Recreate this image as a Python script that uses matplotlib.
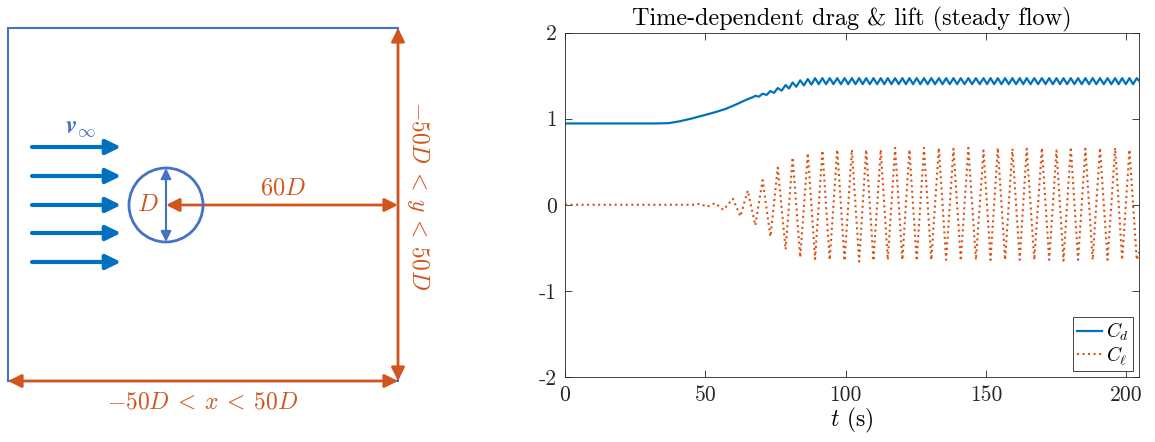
import numpy as np
import matplotlib
matplotlib.use("Agg")
import matplotlib.pyplot as plt
from matplotlib.patches import Circle, Rectangle, FancyArrowPatch

plt.rcParams['mathtext.fontset'] = 'cm'
plt.rcParams['font.family'] = ['cmr10', 'DejaVu Serif']
plt.rcParams['axes.unicode_minus'] = False

# lift coefficient: extrema (t in s)
cl_t = [0, 46, 48.2, 50.5, 53.5, 56.4, 59.8, 62.5, 65.1, 67.8, 70.4, 73.2, 75.8, 78.6, 81.1, 83.8, 86.5,
        89.1, 91.7, 94.3, 97.0, 99.6, 102.2, 104.8, 107.3, 109.9, 112.5, 115.0, 117.6, 120.2, 122.7, 125.3,
        127.9, 130.5, 133.2, 135.8, 138.4, 141.0, 143.7, 146.4, 149.1, 151.6, 154.2, 156.8, 159.4, 162.0,
        164.5, 167.2, 169.9, 172.5, 175.1, 177.6, 180.2, 182.8, 185.4, 188.0, 190.6, 193.3, 196.0, 198.5,
        201.1, 203.7, 204.5]
cl_v = [0.0, 0.0, 0.012, -0.025, 0.02, -0.06, 0.07, -0.135, 0.165, -0.24, 0.285, -0.37, 0.43, -0.52, 0.55,
        -0.61, 0.60, -0.63, 0.63, -0.64, 0.64, -0.65, 0.64, -0.66, 0.64, -0.65, 0.64, -0.64, 0.66, -0.64,
        0.64, -0.65, 0.66, -0.64, 0.66, -0.64, 0.65, -0.65, 0.66, -0.64, 0.63, -0.64, 0.66, -0.64, 0.65,
        -0.64, 0.65, -0.64, 0.66, -0.64, 0.63, -0.65, 0.67, -0.64, 0.65, -0.64, 0.66, -0.64, 0.66, -0.64,
        0.64, -0.64, -0.55]

# drag coefficient: smooth start-up, then small oscillation at twice the shedding frequency
cd_ramp_t = [0, 33, 37, 41, 45, 49, 53, 57, 61, 65, 67]
cd_ramp_v = [0.944, 0.944, 0.948, 0.97, 1.0, 1.035, 1.07, 1.11, 1.165, 1.225, 1.25]
cd_max_t = [67.8, 70.4, 73.2, 75.8, 78.6, 81.1, 83.8, 86.5, 89.1, 91.7, 94.3, 97.0, 99.6, 102.2,
            104.8, 107.3, 109.9, 112.5, 115.0, 117.6, 120.2, 122.7, 125.3, 127.9, 130.5, 133.2, 135.8, 138.4,
            141.0, 143.7, 146.4, 149.1, 151.6, 154.2, 156.8, 159.4, 162.0, 164.5, 167.2, 169.9, 172.5, 175.1,
            177.6, 180.2, 182.8, 185.4, 188.0, 190.6, 193.3, 196.0, 198.5, 201.1, 203.7]
cd_max_v = [1.265, 1.29, 1.32, 1.355, 1.39, 1.42, 1.445, 1.46] + [1.47] * 45
cd_min_t = [69.1, 71.8, 74.5, 77.2, 79.8, 82.4, 85.1, 87.8, 90.4, 93.0, 95.65, 98.3, 100.9, 103.5,
            106.05, 108.6, 111.2, 113.75, 116.3, 118.9, 121.45, 124.0, 126.6, 129.2, 131.85, 134.5, 137.1,
            139.7, 142.35, 145.05, 147.75, 150.35, 152.9, 155.5, 158.1, 160.7, 163.25, 165.85, 168.55, 171.2,
            173.8, 176.35, 178.9, 181.5, 184.1, 186.7, 189.3, 191.95, 194.65, 197.25, 199.8, 202.4, 204.5]
cd_min_v = [1.255, 1.275, 1.30, 1.325, 1.35, 1.37, 1.385, 1.395] + [1.40] * 44 + [1.44]

x_ticks = [0, 50, 100, 150, 200]
y_ticks = [-2, -1, 0, 1, 2]
y_ticklabels = ['-2', '-1', '0', '1', '2']

cd_t = np.array(cd_ramp_t + cd_max_t + cd_min_t)
cd_v = np.array(cd_ramp_v + cd_max_v + cd_min_v)
order = np.argsort(cd_t)
cd_t, cd_v = cd_t[order], cd_v[order]

blue = '#4472C4'
flow = '#0070C0'
orange = '#D0561E'

fig = plt.figure(figsize=(11.55, 4.42), dpi=100)

# ---- left: sketch of the domain (axes in pixel units) ----
ax0 = fig.add_axes([0, 0, 520 / 1155, 1])
ax0.set_xlim(0, 520)
ax0.set_ylim(442, 0)
ax0.axis('off')

ax0.add_patch(Rectangle((8, 28), 390, 353, fill=False, ec=blue, lw=1.5))


def arrow(p1, p2, color, style, lw, ms):
    ax0.add_patch(FancyArrowPatch(p1, p2, arrowstyle=style, mutation_scale=ms, lw=lw,
                                  color=color, shrinkA=0, shrinkB=0))


dbl = '<|-|>,head_length=0.5,head_width=0.25'
arrow((398, 28), (398, 381), orange, dbl, 2.0, 16)
arrow((8, 381), (398, 381), orange, dbl, 2.0, 16)
arrow((166, 205), (398, 205), orange, dbl, 2.0, 16)

for y in [147, 176, 205, 233, 262]:
    arrow((32, y), (121, y), flow, '-|>,head_length=0.45,head_width=0.22', 3.0, 20)

ax0.add_patch(Circle((166, 205), 37, fill=False, ec=blue, lw=2.0))
arrow((166, 168), (166, 242), blue, '<|-|>,head_length=0.45,head_width=0.22', 1.5, 14)

ax0.text(80, 128, r'$\mathbfit{v}_\infty$', color=blue, fontsize=18, ha='center', va='center')
ax0.text(148, 205, r'$D$', color=orange, fontsize=17.5, ha='center', va='center')
ax0.text(283, 188, r'$60D$', color=orange, fontsize=17.5, ha='center', va='center')
ax0.text(203, 402, r'$-50D\:<\:x\:<\:50D$', color=orange, fontsize=17, ha='center', va='center')
ax0.text(418, 196, r'$-50D\:<\:y\:<\:50D$', color=orange, fontsize=17, ha='center', va='center',
         rotation=-90)

# ---- right: drag and lift history ----
ax = fig.add_axes([565 / 1155, 65 / 442, 574 / 1155, 344.5 / 442])
ax.plot(cd_t, cd_v, color='#0072BD', lw=1.6, label=r'$C_d$')
ax.plot(cl_t, cl_v, color='#D95319', lw=1.5, ls=':', label=r'$C_\ell$')

ax.set_xlim(0, 204.5)
ax.set_ylim(-2, 2)
ax.set_xticks(x_ticks)
ax.set_xticklabels([str(v) for v in x_ticks])
ax.set_yticks(y_ticks)
ax.set_yticklabels(y_ticklabels)
ax.tick_params(direction='in', top=True, right=True, length=5, width=0.6,
               labelsize=15.5, colors='#262626', pad=6)
for s in ax.spines.values():
    s.set_linewidth(0.6)
    s.set_color('#262626')

ax.set_title('Time-dependent drag & lift (steady flow)', fontsize=17.5, pad=5)
ax.set_xlabel(r'$t$ (s)', fontsize=17, labelpad=1)

leg = ax.legend(loc='lower right', fontsize=14, handlelength=1.3, handletextpad=0.2,
                borderpad=0.2, labelspacing=0.05, borderaxespad=0.3, fancybox=False,
                framealpha=1)
leg.get_frame().set_edgecolor('#262626')
leg.get_frame().set_linewidth(0.6)

fig.savefig('out.png', dpi=100)
